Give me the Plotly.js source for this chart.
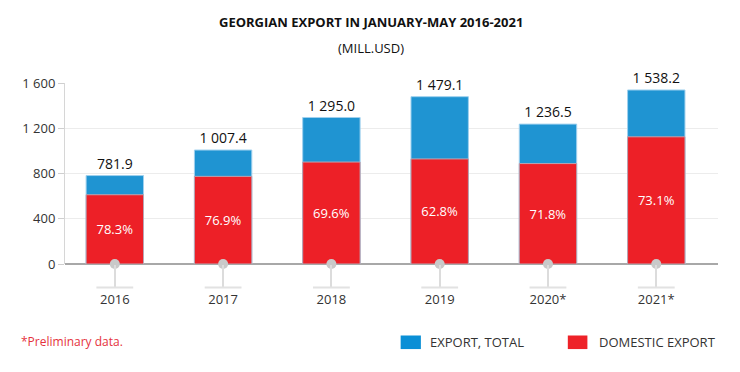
<!DOCTYPE html>
<html>
<head>
<meta charset="utf-8">
<script src="https://cdn.plot.ly/plotly-3.0.1.min.js"></script>
<style>html,body{margin:0;padding:0;background:#fff}#chart{width:740px;height:372px}</style>
</head>
<body>
<div id="chart"></div>
<script>
var years = ['2016', '2017', '2018', '2019', '2020*', '2021*'];
var exportTotal = [781.9, 1007.4, 1295.0, 1479.1, 1236.5, 1538.2];
var domesticExport = [612.2, 774.7, 901.3, 928.9, 887.8, 1124.4];
var domesticShare = ['78.3%', '76.9%', '69.6%', '62.8%', '71.8%', '73.1%'];
var yTicks = [0, 400, 800, 1200, 1600];

var FONT = 'Open Sans, Noto Sans, sans-serif';
var BLUE = '#1f94d2';
var RED = '#ed2027';

var traces = [
  {
    type: 'bar', name: 'EXPORT, TOTAL', x: years, y: exportTotal,
    marker: {color: BLUE, line: {color: '#9fd0ee', width: 1}},
    width: 0.53,
    texttemplate: '%{y:,.1f}', textposition: 'outside',
    textfont: {family: FONT, size: 14, color: '#111'},
    cliponaxis: false, hoverinfo: 'skip'
  },
  {
    type: 'bar', name: 'DOMESTIC EXPORT', x: years, y: domesticExport,
    marker: {color: RED, line: {color: '#b9a6b4', width: 1}},
    width: 0.53,
    text: domesticShare, textposition: 'inside', insidetextanchor: 'middle',
    textfont: {family: FONT, size: 13, color: '#fff'},
    textangle: 0, hoverinfo: 'skip'
  },
  {
    type: 'scatter', mode: 'markers', x: years, y: years.map(function(){return 0;}),
    marker: {color: '#c9c9c9', size: 10}, cliponaxis: false, hoverinfo: 'skip', showlegend: false
  }
];

var shapes = [];
years.forEach(function(c, i){
  shapes.push({type: 'line', xref: 'x', yref: 'paper', x0: i - 0.17, x1: i + 0.17, y0: -0.13, y1: -0.13,
    line: {color: '#e2e2e2', width: 2}});
});
// legend swatches
shapes.push({type: 'rect', xref: 'paper', yref: 'paper', x0: 0.514, x1: 0.545, y0: -0.47, y1: -0.395,
  fillcolor: '#0a8fd6', line: {width: 0}});
shapes.push({type: 'rect', xref: 'paper', yref: 'paper', x0: 0.77, x1: 0.80, y0: -0.47, y1: -0.395,
  fillcolor: '#ee2228', line: {width: 0}});

var layout = {
  width: 740, height: 372,
  margin: {l: 65, r: 22, t: 83, b: 108},
  paper_bgcolor: '#fff', plot_bgcolor: '#fff',
  separators: '. ',
  barmode: 'overlay',
  showlegend: false,
  font: {family: FONT, color: '#333'},
  xaxis: {
    type: 'category', range: [-0.46, 5.57],
    ticks: 'outside', ticklen: 23, tickcolor: '#dcdcdc', tickwidth: 2,
    tickfont: {family: FONT, size: 13, color: '#333'},
    showgrid: false, zeroline: false, showline: false, fixedrange: true
  },
  yaxis: {
    range: [0, 1600], tickvals: yTicks, separatethousands: true,
    ticks: 'outside', ticklen: 6, tickcolor: '#cfcfcf',
    tickfont: {family: FONT, size: 13, color: '#333'},
    showgrid: true, gridcolor: '#ececec', gridwidth: 1,
    showline: true, linecolor: '#d6d6d6',
    zeroline: true, zerolinecolor: '#a8a8a8', zerolinewidth: 1.5, fixedrange: true
  },
  shapes: shapes,
  annotations: [
    {xref: 'paper', yref: 'paper', x: 0.468, y: 1.337, xanchor: 'center', yanchor: 'middle', showarrow: false,
      text: '<b>GEORGIAN EXPORT IN JANUARY-MAY 2016-2021</b>', font: {family: FONT, size: 13, color: '#111'}},
    {xref: 'paper', yref: 'paper', x: 0.468, y: 1.195, xanchor: 'center', yanchor: 'middle', showarrow: false,
      text: '(MILL.USD)', font: {family: FONT, size: 13, color: '#111'}},
    {xref: 'paper', yref: 'paper', x: -0.07, y: -0.43, xanchor: 'left', yanchor: 'middle', showarrow: false,
      text: '*Preliminary data.', font: {family: FONT, size: 12, color: '#e5323d'}},
    {xref: 'paper', yref: 'paper', x: 0.556, y: -0.43, xanchor: 'left', yanchor: 'middle', showarrow: false,
      text: 'EXPORT, TOTAL', font: {family: FONT, size: 13, color: '#333'}},
    {xref: 'paper', yref: 'paper', x: 0.814, y: -0.43, xanchor: 'left', yanchor: 'middle', showarrow: false,
      text: 'DOMESTIC EXPORT', font: {family: FONT, size: 13, color: '#333'}}
  ]
};

Plotly.newPlot('chart', traces, layout, {displayModeBar: false, staticPlot: true});
</script>
</body>
</html>
